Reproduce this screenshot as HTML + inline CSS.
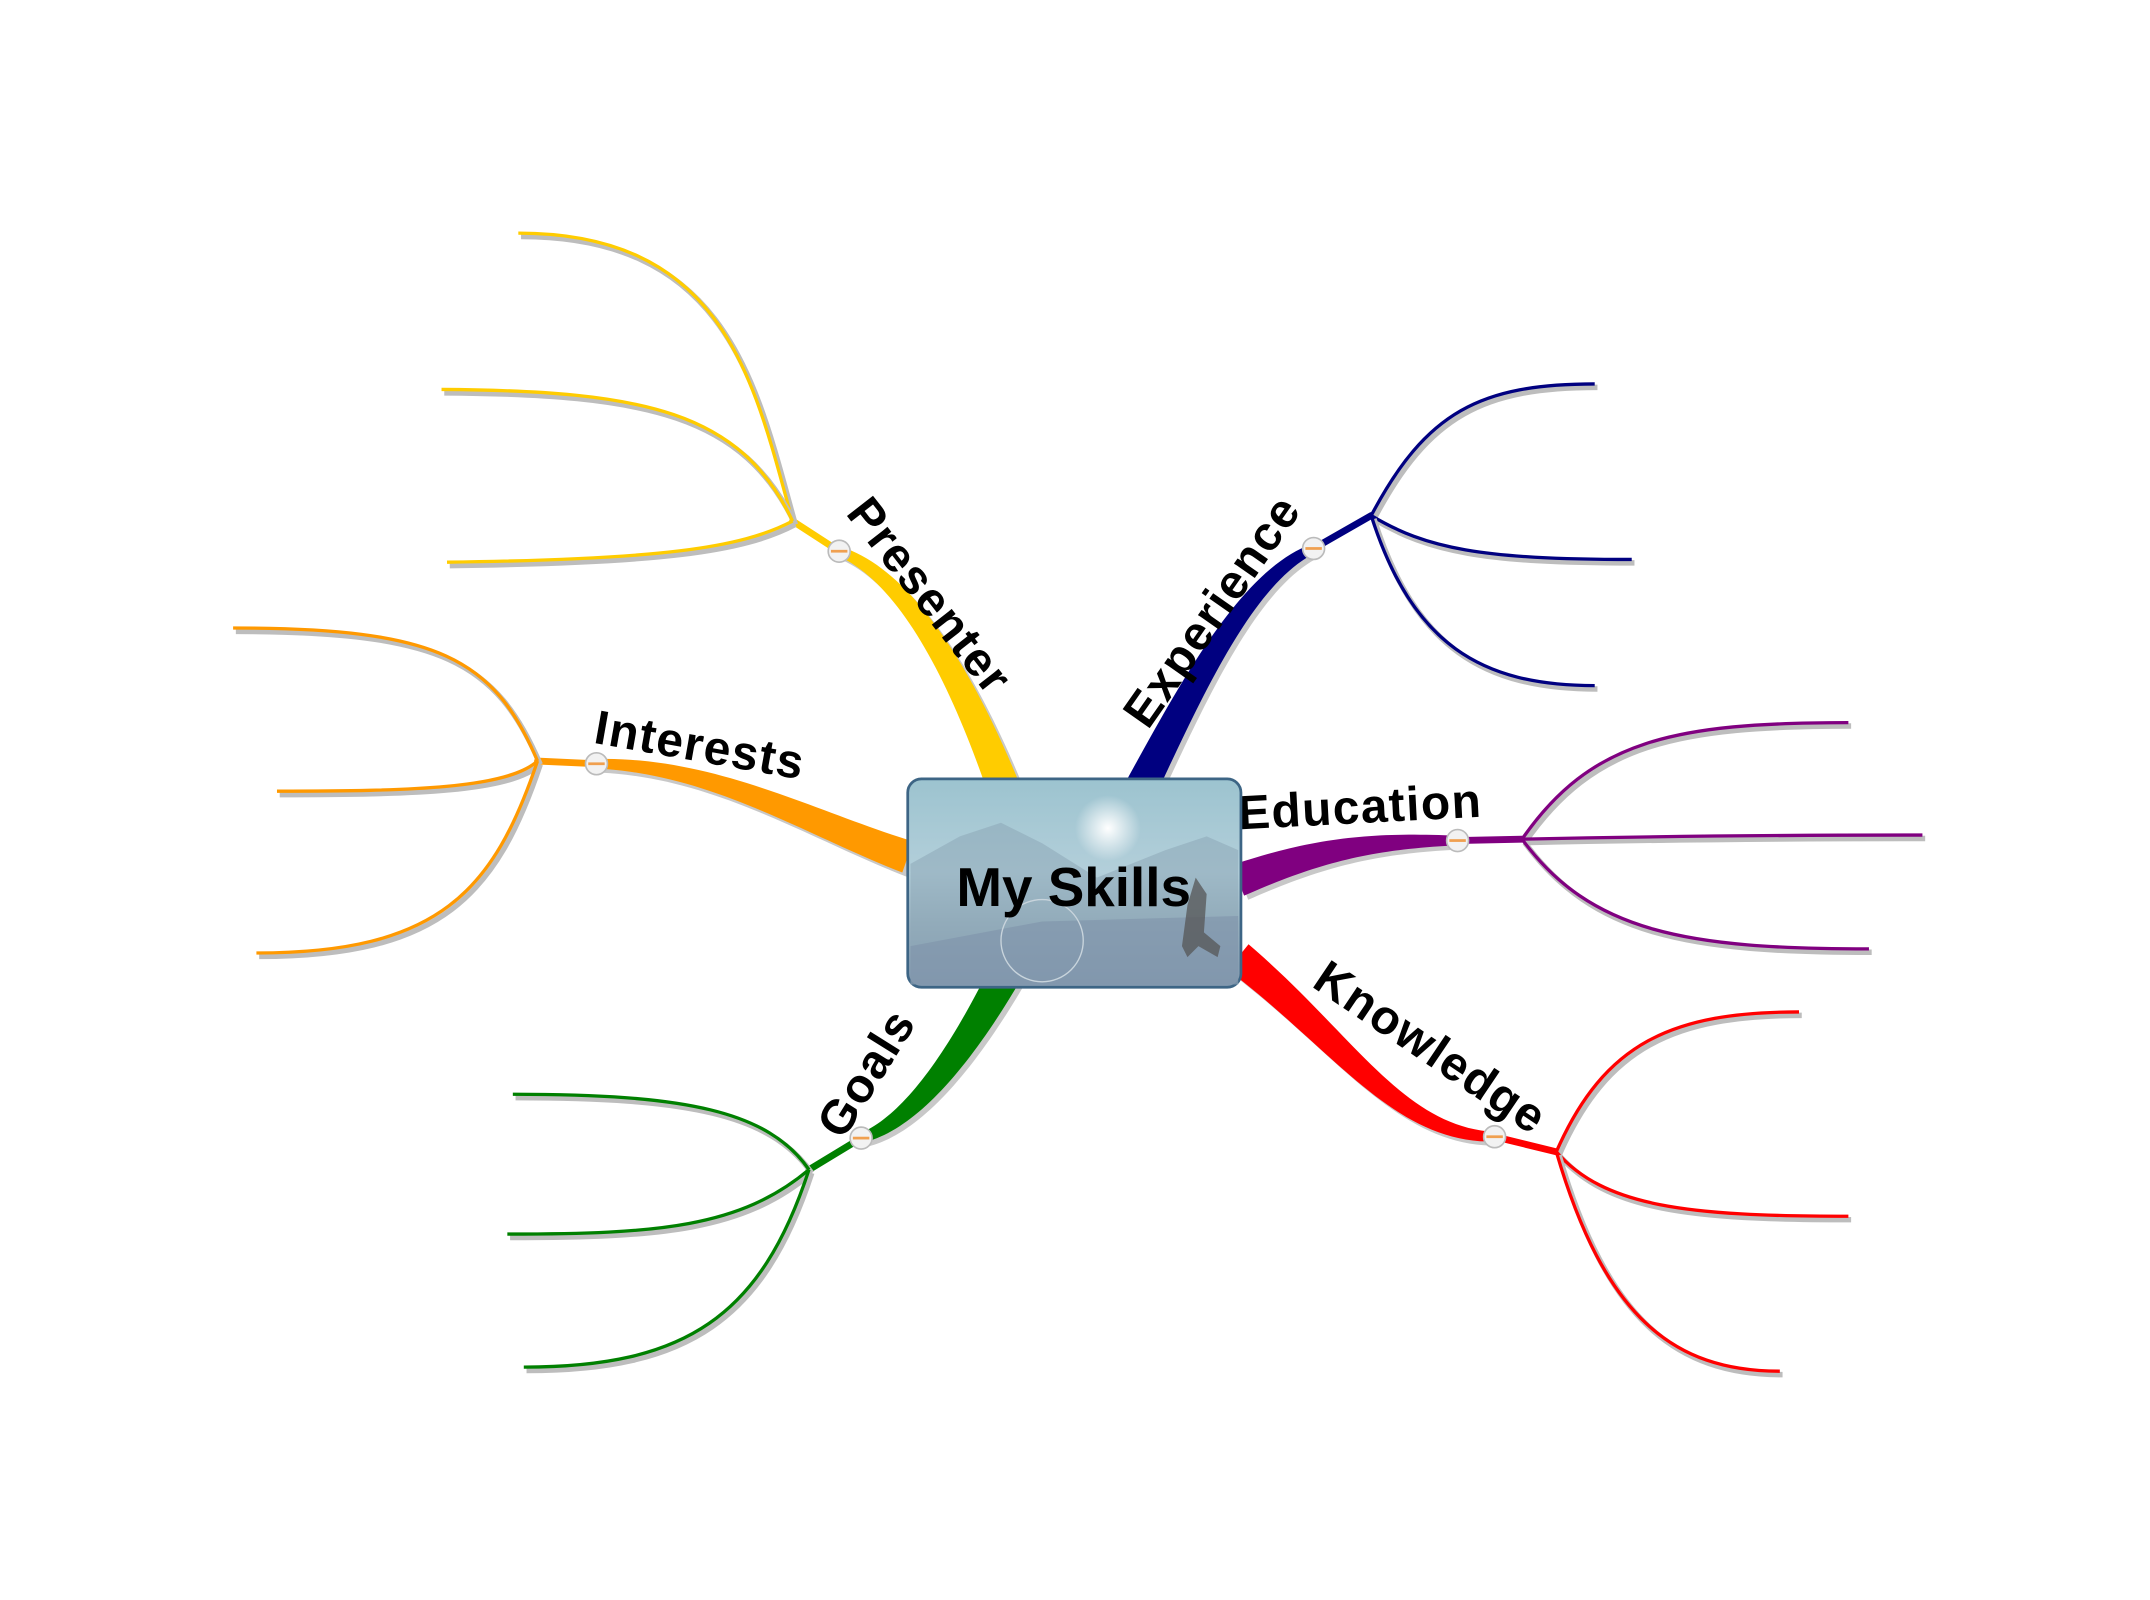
<!DOCTYPE html>
<html><head><meta charset="utf-8"><style>
html,body{margin:0;padding:0;background:#fff;width:2150px;height:1600px;overflow:hidden}
svg{display:block}
text{font-family:"Liberation Sans",sans-serif;font-weight:bold;fill:#000}
</style></head><body>
<svg id="map" width="2150" height="1600" viewBox="0 0 2150 1600" xmlns="http://www.w3.org/2000/svg">
<defs>
<linearGradient id="boxg" x1="0" y1="0" x2="0" y2="1">
<stop offset="0" stop-color="#9cc3cf"/><stop offset="0.45" stop-color="#b3cfda"/><stop offset="0.7" stop-color="#9ab2c0"/><stop offset="1" stop-color="#8298ae"/>
</linearGradient>
<radialGradient id="sun" cx="0.5" cy="0.5" r="0.5"><stop offset="0" stop-color="#fff"/><stop offset="1" stop-color="#fff" stop-opacity="0"/></radialGradient>
</defs>
<g id="root" transform="scale(1.3712)"></g>
</svg>
<script>
const branchNames=['presenter','interests','goals','experience','education','knowledge'];
const branchLabels=['Presenter','Interests','Goals','Experience','Education','Knowledge'];
const branchColors=['#FFCC00','#FF9900','#008000','#000080','#800080','#FF0000'];
const mainCurves=[
 [[732,575],[700,490],[660,420],[612,402]],
 [[662,625],[590,600],[520,558],[435,557]],
 [[732,712],[695,780],[660,820],[628,830]],
 [[832,575],[870,500],[910,420],[958,400]],
 [[903,642],[960,620],[1000,613],[1063,613]],
 [[903,698],[980,760],[1020,828],[1090,829]]
];
const junctions=[[578,380],[392,555],[590,853],[1000,376],[1110,612],[1135,840]];
const subPaths=[
 ["M578,380 C550,280 530,170 378,170","M578,380 C540,300 470,285 322,284","M578,380 C540,400 480,408 326,410"],
 ["M392,555 C360,480 320,458 170,458","M392,555 C370,575 300,577 202,577","M392,555 C360,650 320,695 187,695"],
 ["M590,853 C560,810 500,798 374,798","M590,853 C540,895 480,900 370,900","M590,853 C555,960 500,997 382,997"],
 ["M1000,376 C1040,300 1080,280 1163,280","M1000,376 C1040,400 1080,408 1190,408","M1000,376 C1030,470 1080,500 1163,500"],
 ["M1110,612 C1160,540 1220,527 1348,527","M1110,612 C1200,610 1300,609 1402,609","M1110,612 C1160,680 1230,692 1363,692"],
 ["M1135,840 C1170,760 1220,738 1312,738","M1135,840 C1170,880 1230,887 1348,887","M1135,840 C1170,960 1220,1000 1298,1000"]
];
const labelPos=[[676,436,52],[510,546,10],[634,784,-58],[886,447,-55],[992,591,-3],[1042,766,34]];
const NS='http://www.w3.org/2000/svg';
const root=document.getElementById('root');
function mk(t,a){const e=document.createElementNS(NS,t);for(const k in a)e.setAttribute(k,a[k]);return e;}
function bez(c,t){const u=1-t;const x=u*u*u*c[0][0]+3*u*u*t*c[1][0]+3*u*t*t*c[2][0]+t*t*t*c[3][0];const y=u*u*u*c[0][1]+3*u*u*t*c[1][1]+3*u*t*t*c[2][1]+t*t*t*c[3][1];return [x,y];}
function taper(c,w0,w1,dx,dy){const L=[],R=[];const N=40;for(let i=0;i<=N;i++){const t=i/N;const p=bez(c,t);const q=bez(c,Math.min(1,t+0.01));const p0=bez(c,Math.max(0,t-0.01));let tx=q[0]-p0[0],ty=q[1]-p0[1];const l=Math.hypot(tx,ty)||1;tx/=l;ty/=l;const w=(w0+(w1-w0)*t)/2;L.push([p[0]-ty*w+dx,p[1]+tx*w+dy]);R.push([p[0]+ty*w+dx,p[1]-tx*w+dy]);}
 return 'M'+L.map(p=>p.join(',')).join(' L')+' L'+R.reverse().map(p=>p.join(',')).join(' L')+'Z';}
for(let b=0;b<branchNames.length;b++){
 const g=mk('g',{});root.appendChild(g);
 const c=mainCurves[b];
 g.appendChild(mk('path',{d:taper(c,24,7,3,3),fill:'#c8c8c8'}));
 const m=mk('path',{d:taper(c,24,7,0,0),fill:branchColors[b]});
 g.appendChild(m);
 const e=c[3],j=junctions[b];
 g.appendChild(mk('line',{x1:e[0],y1:e[1],x2:j[0],y2:j[1],stroke:branchColors[b],'stroke-width':5,'stroke-linecap':'round'}));
 for(let s=0;s<subPaths[b].length;s++){
  g.appendChild(mk('path',{d:subPaths[b][s],fill:'none',stroke:'#bdbdbd','stroke-width':4,transform:'translate(2,2.5)'}));
  const sp=mk('path',{d:subPaths[b][s],fill:'none',stroke:branchColors[b],'stroke-width':2.4});
  g.appendChild(sp);
 }
 const n=mk('circle',{cx:e[0],cy:e[1],r:8,fill:'#f2f2f2',stroke:'#bbb','stroke-width':1.2});
 g.appendChild(n);
 g.appendChild(mk('rect',{x:e[0]-6,y:e[1]-1,width:12,height:2,fill:'#f0a050'}));
 const lp=labelPos[b];
 const t=mk('text',{x:lp[0],y:lp[1],'font-size':35,'letter-spacing':1,'text-anchor':'middle','dominant-baseline':'middle',transform:`rotate(${lp[2]} ${lp[0]} ${lp[1]})`});
 t.textContent=branchLabels[b];
 g.appendChild(t);
}
const cg=mk('g',{});root.appendChild(cg);
cg.appendChild(mk('rect',{x:662,y:568,width:243,height:152,rx:10,fill:'url(#boxg)',stroke:'#3d6585','stroke-width':2}));
cg.appendChild(mk('path',{d:'M664,630 L700,610 L730,600 L760,615 L800,640 L850,620 L880,610 L903,620 L903,718 L664,718Z',fill:'#8aa3b3',opacity:0.5}));
cg.appendChild(mk('path',{d:'M664,690 L760,672 L903,668 L903,718 L664,718Z',fill:'#7f93aa',opacity:0.6}));
cg.appendChild(mk('circle',{cx:808,cy:604,r:24,fill:'url(#sun)'}));
cg.appendChild(mk('circle',{cx:760,cy:686,r:30,fill:'none',stroke:'#c8d4dc','stroke-width':1}));
cg.appendChild(mk('path',{d:'M872,640 L866,660 L862,690 L866,698 L874,690 L888,698 L890,690 L878,680 L880,652 Z',fill:'#555',opacity:0.75}));
const ct=mk('text',{x:783,y:650,'font-size':40,'text-anchor':'middle','dominant-baseline':'middle'});
ct.textContent='My Skills';cg.appendChild(ct);
</script>
</body></html>
